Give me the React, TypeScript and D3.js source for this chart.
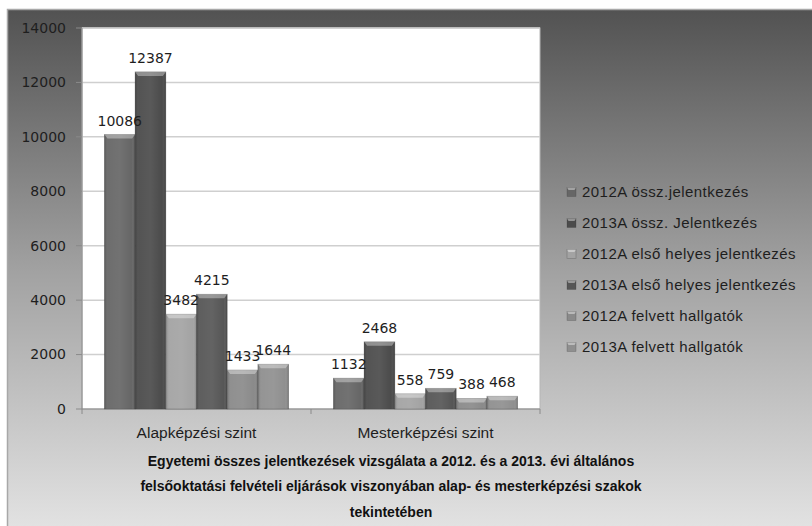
import React from 'react';
import { scaleBand, scaleLinear } from 'd3';

const categories = ['Alapképzési szint', 'Mesterképzési szint'];
const seriesNames = [
  '2012A össz.jelentkezés',
  '2013A össz. Jelentkezés',
  '2012A első helyes jelentkezés',
  '2013A első helyes jelentkezés',
  '2012A felvett hallgatók',
  '2013A felvett hallgatók',
];
const alapValues = [10086, 12387, 3482, 4215, 1433, 1644];
const mesterValues = [1132, 2468, 558, 759, 388, 468];
const yTicks = [0, 2000, 4000, 6000, 8000, 10000, 12000, 14000];
const seriesColors = ['#666666', '#4b4b4b', '#a3a3a3', '#565656', '#8a8a8a', '#8f8f8f'];
const titleLines = [
  'Egyetemi összes jelentkezések vizsgálata a 2012. és a 2013. évi általános',
  'felsőoktatási felvételi eljárások viszonyában  alap- és mesterképzési szakok',
  'tekintetében',
];

const W = 812;
const H = 526;
const plot = { left: 82, right: 540, top: 28, bottom: 409 };
const labelFont = "'Liberation Sans', Arial, sans-serif";
const numFont = "'DejaVu Sans', Verdana, sans-serif";

export default function App() {
  const valuesByCat = [alapValues, mesterValues];

  const x0 = scaleBand<string>().domain(categories).range([plot.left, plot.right]);
  const x1 = scaleBand<string>()
    .domain(seriesNames)
    .range([0, x0.bandwidth()])
    .paddingOuter(0.73);
  const y = scaleLinear().domain([0, 14000]).range([plot.bottom, plot.top]);

  // light top bevel, like the office "3D" bar style
  const bevel = (x: number, top: number, w: number, h: number) => {
    const d = Math.min(4, h / 2);
    return `M${x},${top} L${x + w},${top} L${x + w - 3},${top + d} L${x + 3},${top + d} Z`;
  };

  return (
    <svg
      width={W}
      height={H}
      style={{ position: 'absolute', left: 0, top: 0, display: 'block' }}
    >
      <defs>
        <linearGradient id="bg" x1="0" y1="0" x2="0" y2="1">
          <stop offset="0" stopColor="#525252" />
          <stop offset="0.5" stopColor="#a2a2a2" />
          <stop offset="1" stopColor="#e4e4e4" />
        </linearGradient>
        <linearGradient id="barShade" x1="0" y1="0" x2="1" y2="0">
          <stop offset="0" stopColor="#000" stopOpacity={0.18} />
          <stop offset="0.12" stopColor="#fff" stopOpacity={0.05} />
          <stop offset="0.5" stopColor="#fff" stopOpacity={0.08} />
          <stop offset="0.88" stopColor="#fff" stopOpacity={0.0} />
          <stop offset="1" stopColor="#000" stopOpacity={0.2} />
        </linearGradient>
      </defs>

      <rect x={0} y={0} width={W} height={H} fill="#fff" />
      {/* chart frame */}
      <rect x={7.5} y={9.5} width={W} height={H} fill="url(#bg)" stroke="#a8a8a8" strokeWidth={1.5} />

      {/* plot area */}
      <rect
        x={plot.left}
        y={plot.top}
        width={plot.right - plot.left}
        height={plot.bottom - plot.top}
        fill="#fff"
        stroke="#b5b5b5"
        strokeWidth={1}
      />

      {/* gridlines + y ticks */}
      {yTicks.map((t) => (
        <g key={t}>
          {t > 0 && (
            <line x1={plot.left} x2={plot.right} y1={y(t)} y2={y(t)} stroke="#cfcfcf" strokeWidth={1.5} />
          )}
          <line x1={plot.left - 6} x2={plot.left} y1={y(t)} y2={y(t)} stroke="#8a8a8a" />
          <text
            x={plot.left - 16}
            y={y(t)}
            dy="0.35em"
            textAnchor="end"
            fontFamily={numFont}
            fontSize={14}
            fill="#1e1e1e"
          >
            {t}
          </text>
        </g>
      ))}

      {/* axes */}
      <line x1={plot.left} x2={plot.left} y1={plot.top} y2={plot.bottom} stroke="#8a8a8a" />
      <line x1={plot.left} x2={plot.right} y1={plot.bottom} y2={plot.bottom} stroke="#8a8a8a" />
      {[plot.left, ...categories.map((c) => (x0(c) as number) + x0.bandwidth())].map((tx, i) => (
        <line key={i} x1={tx} x2={tx} y1={plot.bottom} y2={plot.bottom + 5} stroke="#8a8a8a" />
      ))}

      {/* bars */}
      {categories.map((c, ci) => (
        <g key={c} transform={`translate(${x0(c)},0)`}>
          {valuesByCat[ci].map((v, si) => {
            const bx = x1(seriesNames[si]) as number;
            const bw = x1.bandwidth();
            const top = y(v);
            const h = plot.bottom - top;
            return (
              <g key={si}>
                <rect x={bx} y={top} width={bw} height={h} fill={seriesColors[si]} stroke="#3a3a3a" strokeOpacity={0.35} strokeWidth={0.8} />
                <rect x={bx} y={top} width={bw} height={h} fill="url(#barShade)" />
                <path d={bevel(bx, top, bw, h)} fill="#fff" fillOpacity={0.35} />
              </g>
            );
          })}
        </g>
      ))}

      {/* data labels */}
      {categories.map((c, ci) =>
        valuesByCat[ci].map((v, si) => (
          <text
            key={`${ci}-${si}`}
            x={(x0(c) as number) + (x1(seriesNames[si]) as number) + x1.bandwidth() / 2}
            y={y(v) - 9}
            textAnchor="middle"
            fontFamily={numFont}
            fontSize={14}
            fill="#1e1e1e"
          >
            {v}
          </text>
        ))
      )}

      {/* category labels */}
      {categories.map((c) => (
        <text
          key={c}
          x={(x0(c) as number) + x0.bandwidth() / 2}
          y={433}
          dy="0.35em"
          textAnchor="middle"
          fontFamily={labelFont}
          fontSize={15.5}
          fill="#1e1e1e"
        >
          {c}
        </text>
      ))}

      {/* title under the chart */}
      {titleLines.map((line, i) => (
        <text
          key={i}
          x={391}
          y={461 + i * 25.5}
          dy="0.35em"
          textAnchor="middle"
          fontFamily={labelFont}
          fontWeight="bold"
          fontSize={14}
          fill="#111"
        >
          {line}
        </text>
      ))}

      {/* legend */}
      {seriesNames.map((name, i) => {
        const ly = 192 + i * 31;
        return (
          <g key={name} transform={`translate(567,${ly})`}>
            <rect x={0} y={-4.5} width={9} height={9} fill={seriesColors[i]} stroke="#3a3a3a" strokeOpacity={0.4} strokeWidth={0.6} />
            <path d="M0,-4.5 L9,-4.5 L7.5,-2 L1.5,-2 Z" fill="#fff" fillOpacity={0.4} />
            <text x={15} y={0} dy="0.35em" fontFamily={labelFont} fontSize={15} letterSpacing={0.45} fill="#1e1e1e">
              {name}
            </text>
          </g>
        );
      })}
    </svg>
  );
}
